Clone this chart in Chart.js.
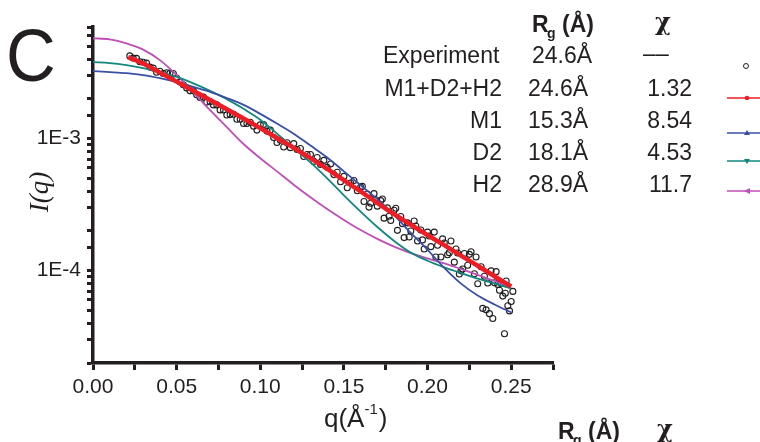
<!DOCTYPE html>
<html>
<head>
<meta charset="utf-8">
<script src="https://cdn.jsdelivr.net/npm/chart.js@4.4.1/dist/chart.umd.min.js"></script>
<style>
  html, body { margin: 0; padding: 0; background: #fff; }
  #wrap { width: 760px; height: 442px; }
</style>
</head>
<body>
<div id="wrap"><canvas id="saxs" width="760" height="442"></canvas></div>
<script>
// values (q in 1/Å, I(q) absolute)
const modelQ = [0, 0.01, 0.02, 0.03, 0.04, 0.05, 0.06, 0.07, 0.08, 0.09, 0.10, 0.11, 0.12,
  0.13, 0.14, 0.15, 0.16, 0.17, 0.18, 0.19, 0.20, 0.21, 0.22, 0.23, 0.24, 0.25];

const m1I = [3.24e-3, 3.19e-3, 3.13e-3, 3.03e-3, 2.87e-3, 2.68e-3, 2.46e-3, 2.26e-3, 2.03e-3,
  1.80e-3, 1.54e-3, 1.30e-3, 1.09e-3, 8.86e-4, 7.20e-4, 5.65e-4, 4.43e-4, 3.48e-4, 2.64e-4,
  1.93e-4, 1.44e-4, 1.05e-4, 7.98e-5, 6.49e-5, 5.55e-5, 4.83e-5];

const d2I = [3.79e-3, 3.73e-3, 3.60e-3, 3.42e-3, 3.19e-3, 2.93e-3, 2.62e-3, 2.30e-3, 1.99e-3,
  1.68e-3, 1.39e-3, 1.09e-3, 8.50e-4, 6.60e-4, 5.00e-4, 3.72e-4, 2.80e-4, 2.14e-4, 1.68e-4,
  1.37e-4, 1.19e-4, 1.06e-4, 9.60e-5, 8.70e-5, 8.00e-5, 7.33e-5];

const h2I = [5.75e-3, 5.65e-3, 5.27e-3, 4.72e-3, 3.93e-3, 3.03e-3, 2.24e-3, 1.64e-3, 1.22e-3,
  9.10e-4, 7.10e-4, 5.65e-4, 4.48e-4, 3.60e-4, 2.93e-4, 2.42e-4, 2.03e-4, 1.74e-4, 1.52e-4,
  1.36e-4, 1.24e-4, 1.135e-4, 1.03e-4, 9.30e-5, 8.35e-5, 7.45e-5];

const fitQ = [0.021, 0.03, 0.04, 0.05, 0.06, 0.07, 0.08, 0.09, 0.10, 0.11, 0.12, 0.13, 0.14,
  0.15, 0.16, 0.17, 0.18, 0.19, 0.20, 0.21, 0.22, 0.23, 0.24, 0.25];
const fitI = [4.14e-3, 3.70e-3, 3.16e-3, 2.70e-3, 2.30e-3, 1.96e-3, 1.67e-3, 1.42e-3, 1.20e-3,
  1.01e-3, 8.51e-4, 7.11e-4, 5.89e-4, 4.84e-4, 3.98e-4, 3.26e-4, 2.68e-4, 2.23e-4, 1.86e-4,
  1.56e-4, 1.30e-4, 1.09e-4, 9.08e-5, 7.59e-5];

const expQ = [0.022, 0.024, 0.026, 0.028, 0.030, 0.032, 0.034, 0.036, 0.038, 0.040, 0.042, 0.044,
  0.046, 0.048, 0.050, 0.052, 0.054, 0.056, 0.058, 0.060, 0.062, 0.064, 0.066, 0.068, 0.070,
  0.072, 0.074, 0.076, 0.078, 0.080, 0.082, 0.084, 0.086, 0.088, 0.090, 0.092, 0.094, 0.096,
  0.098, 0.100, 0.102, 0.104, 0.106, 0.108, 0.110, 0.112, 0.114, 0.116, 0.118, 0.120, 0.122,
  0.124, 0.126, 0.128, 0.130, 0.132, 0.134, 0.136, 0.138, 0.140, 0.142, 0.144, 0.146, 0.148,
  0.150, 0.152, 0.154, 0.156, 0.158, 0.160, 0.161, 0.162, 0.164, 0.165, 0.166, 0.168, 0.169,
  0.170, 0.172, 0.173, 0.174, 0.176, 0.177, 0.178, 0.180, 0.181, 0.182, 0.184, 0.185, 0.186,
  0.188, 0.189, 0.190, 0.192, 0.193, 0.194, 0.196, 0.197, 0.198, 0.200, 0.201, 0.202, 0.204,
  0.205, 0.206, 0.208, 0.209, 0.210, 0.212, 0.213, 0.214, 0.216, 0.217, 0.218, 0.219, 0.220,
  0.221, 0.222, 0.224, 0.225, 0.226, 0.228, 0.229, 0.230, 0.232, 0.233, 0.234, 0.235, 0.236,
  0.237, 0.238, 0.239, 0.240, 0.241, 0.242, 0.243, 0.244, 0.245, 0.246, 0.2465, 0.247, 0.248,
  0.249, 0.250, 0.251];
const expI = [4.23e-3, 4.07e-3, 4.05e-3, 3.82e-3, 3.79e-3, 3.73e-3, 3.48e-3, 3.42e-3, 3.18e-3,
  3.24e-3, 3.11e-3, 3.15e-3, 3.13e-3, 3.11e-3, 2.88e-3, 2.69e-3, 2.56e-3, 2.42e-3, 2.30e-3,
  2.30e-3, 2.15e-3, 2.05e-3, 2.06e-3, 1.89e-3, 1.90e-3, 1.80e-3, 1.80e-3, 1.65e-3, 1.65e-3,
  1.51e-3, 1.52e-3, 1.53e-3, 1.40e-3, 1.40e-3, 1.30e-3, 1.30e-3, 1.33e-3, 1.24e-3, 1.16e-3,
  1.27e-3, 1.28e-3, 1.14e-3, 1.16e-3, 1.02e-3, 9.35e-4, 9.73e-4, 8.65e-4, 9.30e-4, 8.54e-4,
  9.17e-4, 8.27e-4, 8.41e-4, 7.32e-4, 7.59e-4, 7.59e-4, 6.72e-4, 7.20e-4, 6.38e-4, 6.84e-4,
  6.06e-4, 6.42e-4, 5.34e-4, 5.57e-4, 4.72e-4, 5.18e-4, 4.25e-4, 4.61e-4, 4.82e-4, 4.03e-4,
  4.29e-4, 4.35e-4, 3.34e-4, 3.81e-4, 3.03e-4, 3.24e-4, 3.83e-4, 3.44e-4, 3.08e-4, 3.39e-4,
  3.49e-4, 2.50e-4, 2.99e-4, 2.58e-4, 2.40e-4, 2.87e-4, 2.97e-4, 2.02e-4, 2.57e-4, 2.27e-4,
  1.78e-4, 2.30e-4, 1.80e-4, 2.00e-4, 2.38e-4, 2.18e-4, 1.68e-4, 2.03e-4, 1.71e-4, 1.46e-4,
  1.96e-4, 1.83e-4, 1.52e-4, 1.96e-4, 1.27e-4, 1.56e-4, 1.27e-4, 1.74e-4, 1.62e-4, 1.32e-4,
  1.37e-4, 1.68e-4, 1.16e-4, 1.46e-4, 1.36e-4, 9.44e-5, 9.97e-5, 1.03e-4, 1.35e-4, 1.10e-4,
  1.33e-4, 1.39e-4, 9.49e-5, 1.27e-4, 7.96e-5, 1.07e-4, 5.18e-5, 9.08e-5, 5.05e-5, 8.07e-5,
  4.73e-5, 9.97e-5, 4.35e-5, 8.11e-5, 9.83e-5, 7.87e-5, 7.11e-5, 8.03e-5, 6.42e-5, 3.33e-5,
  6.74e-5, 8.35e-5, 5.43e-5, 4.96e-5, 5.84e-5, 6.97e-5];

const xTickValues = [0, 0.05, 0.10, 0.15, 0.20, 0.25];
const xTickLabels = ['0.00', '0.05', '0.10', '0.15', '0.20', '0.25'];
const yTickValues = [1e-4, 1e-3];
const yTickLabels = ['1E-4', '1E-3'];

const tableNames = ['Experiment', 'M1+D2+H2', 'M1', 'D2', 'H2'];
const tableRg = ['24.6Å', '24.6Å', '15.3Å', '18.1Å', '28.9Å'];
const tableChi = ['–', '1.32', '8.54', '4.53', '11.7'];

const ink = '#231f20';
const red = '#ee1c24';
const blue = '#3a4fa6';
const teal = '#11877e';
const magenta = '#bf4fb6';
const sans = '"Liberation Sans", Arial, Helvetica, sans-serif';

function pairs(xs, ys) {
  return xs.map((x, i) => ({ x: x, y: ys[i] }));
}

function line(label, xs, ys, color, width, order) {
  return {
    label: label,
    data: pairs(xs, ys),
    showLine: true,
    borderColor: color,
    borderWidth: width,
    pointRadius: 0,
    cubicInterpolationMode: 'monotone',
    fill: false,
    order: order
  };
}

// table, labels and legend marks drawn over the chart
const annotations = {
  id: 'annotations',
  afterDraw(chart) {
    const ctx = chart.ctx;
    ctx.save();
    ctx.fillStyle = ink;
    ctx.textBaseline = 'alphabetic';

    // panel letter, slightly condensed like the original
    ctx.save();
    ctx.translate(6, 81);
    ctx.scale(0.93, 1);
    ctx.font = '74px ' + sans;
    ctx.fillText('C', 0, 0);
    ctx.restore();

    // y title
    ctx.save();
    ctx.translate(41, 192);
    ctx.rotate(-Math.PI / 2);
    ctx.textAlign = 'center';
    ctx.textBaseline = 'middle';
    ctx.font = 'italic 27px "Liberation Serif", "Times New Roman", serif';
    ctx.fillText('I(q)', 0, 0);
    ctx.restore();

    // x title q(Å^-1)
    ctx.textAlign = 'left';
    ctx.font = '26px ' + sans;
    ctx.fillText('q(Å', 324, 427);
    let x = 324 + ctx.measureText('q(Å').width;
    ctx.font = '15px ' + sans;
    ctx.fillText('-1', x, 414);
    x += ctx.measureText('-1').width + 1;
    ctx.font = '26px ' + sans;
    ctx.fillText(')', x, 427);

    // header R_g (Å)  χ, drawn twice (second one cut by the bottom edge)
    function header(hx, hy, cx) {
      ctx.textAlign = 'left';
      ctx.font = 'bold 23px ' + sans;
      ctx.fillText('R', hx, hy);
      ctx.font = 'bold 14px ' + sans;
      ctx.fillText('g', hx + 15, hy + 6);
      ctx.font = 'bold 23px ' + sans;
      ctx.fillText('(Å)', hx + 30, hy);
      ctx.font = 'bold 24px "DejaVu Serif", "Liberation Serif", serif';
      ctx.fillText('\u03C7', cx, hy - 2);
    }
    header(532, 32, 655);
    header(558, 439, 657);

    // rows
    ctx.font = '23px ' + sans;
    const rowY = [63, 96, 128, 160, 192];
    tableNames.forEach((name, i) => {
      if (i === 0) {
        ctx.textAlign = 'left';
        ctx.fillText(name, 383, rowY[i]);
      } else {
        ctx.textAlign = 'right';
        ctx.fillText(name, 502, rowY[i]);
      }
      ctx.textAlign = 'left';
      ctx.fillText(tableRg[i], i === 0 ? 532 : 528, rowY[i]);
      if (i === 0) {
        ctx.fillText(tableChi[i], 643, rowY[i] - 2);
        ctx.fillText(tableChi[i], 656, rowY[i] - 2);
      } else {
        ctx.textAlign = 'right';
        ctx.fillText(tableChi[i], 692, rowY[i]);
      }
    });

    // legend marks at the right edge
    ctx.lineWidth = 1;
    ctx.strokeStyle = ink;
    ctx.beginPath();
    ctx.arc(746, 66, 2.5, 0, Math.PI * 2);
    ctx.stroke();
    const marks = [[98, red, 'dot'], [133, blue, 'up'], [161, teal, 'down'], [191, magenta, 'left']];
    marks.forEach(([y, c, m]) => {
      ctx.strokeStyle = c;
      ctx.fillStyle = c;
      ctx.lineWidth = 1.5;
      ctx.beginPath();
      ctx.moveTo(727, y);
      ctx.lineTo(760, y);
      ctx.stroke();
      ctx.beginPath();
      if (m === 'dot') ctx.arc(747, y, 2.2, 0, Math.PI * 2);
      if (m === 'up') { ctx.moveTo(744, y + 2); ctx.lineTo(750, y + 2); ctx.lineTo(747, y - 3); }
      if (m === 'down') { ctx.moveTo(744, y - 2); ctx.lineTo(750, y - 2); ctx.lineTo(747, y + 3); }
      if (m === 'left') { ctx.moveTo(750, y - 3); ctx.lineTo(750, y + 3); ctx.lineTo(744, y); }
      ctx.closePath();
      ctx.fill();
    });
    ctx.restore();
  }
};

function nearIndex(values, v, tol) {
  return values.findIndex(t => Math.abs(t - v) < tol);
}

new Chart(document.getElementById('saxs'), {
  type: 'scatter',
  data: {
    datasets: [
      line('M1+D2+H2', fitQ, fitI, red, 4.5, 1),
      line('M1', modelQ, m1I, blue, 1.8, 2),
      line('D2', modelQ, d2I, teal, 1.8, 3),
      line('H2', modelQ, h2I, magenta, 1.8, 4),
      {
        label: 'Experiment',
        data: pairs(expQ, expI),
        showLine: false,
        pointStyle: 'circle',
        pointRadius: 3,
        borderWidth: 1.1,
        borderColor: '#1e1e1e',
        backgroundColor: 'rgba(255,255,255,0)',
        order: 5
      }
    ]
  },
  options: {
    responsive: false,
    devicePixelRatio: 1,
    animation: false,
    layout: { padding: { left: 0, top: 27, right: 207, bottom: 0 } },
    plugins: { legend: { display: false }, tooltip: { enabled: false } },
    scales: {
      x: {
        type: 'linear',
        min: 0,
        max: 0.275,
        afterFit(scale) { scale.height = 79; },
        border: { display: true, color: ink, width: 3.5 },
        grid: { drawOnChartArea: false, drawTicks: true, tickLength: 7, tickWidth: 3, tickColor: ink },
        ticks: {
          stepSize: 0.025,
          autoSkip: false,
          maxRotation: 0,
          padding: 5,
          color: ink,
          font: { family: sans, size: 21 },
          callback(v) {
            const i = nearIndex(xTickValues, v, 1e-6);
            return i >= 0 ? xTickLabels[i] : '';
          }
        }
      },
      y: {
        type: 'logarithmic',
        min: 2e-5,
        max: 7e-3,
        afterFit(scale) { scale.width = 93; },
        border: { display: true, color: ink, width: 3.5 },
        grid: { drawOnChartArea: false, drawTicks: true, tickLength: 6, tickWidth: 3, tickColor: ink },
        ticks: {
          autoSkip: false,
          padding: 6,
          color: ink,
          font: { family: sans, size: 21 },
          callback(v) {
            const i = yTickValues.findIndex(t => Math.abs(Math.log10(t) - Math.log10(v)) < 1e-6);
            return i >= 0 ? yTickLabels[i] : '';
          }
        }
      }
    }
  },
  plugins: [annotations]
});
</script>
</body>
</html>
